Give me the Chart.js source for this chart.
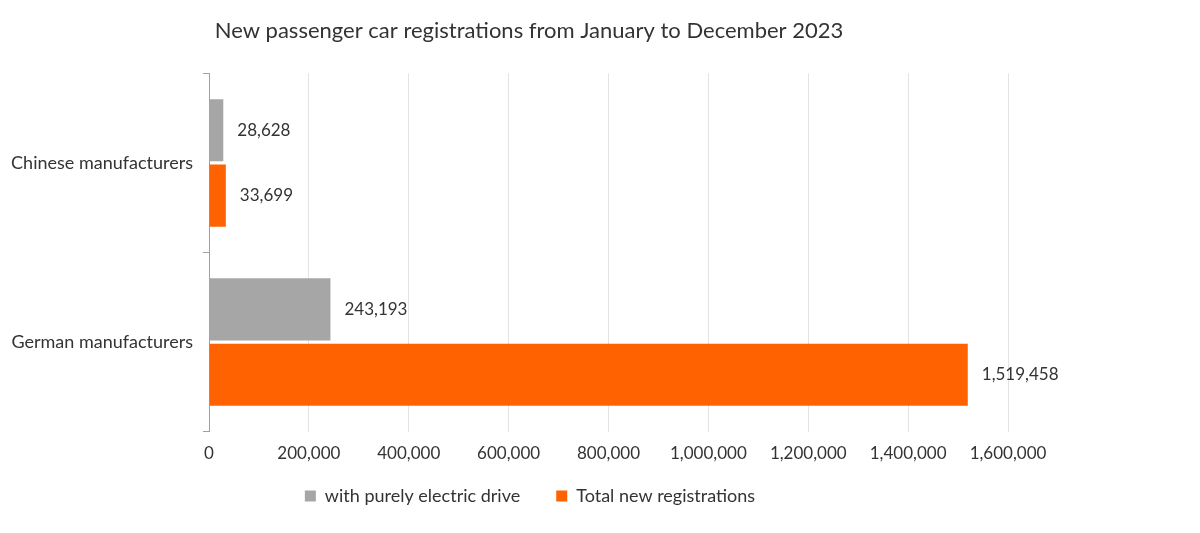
<!DOCTYPE html>
<html>
<head>
<meta charset="utf-8">
<script src="https://cdn.jsdelivr.net/npm/chart.js@4"></script>
<style>
  html, body { margin: 0; padding: 0; background: #fff; }
  #wrap { width: 1200px; height: 533px; }
</style>
</head>
<body>
<div id="wrap"><canvas id="chart" width="1200" height="533"></canvas></div>
<script>
'use strict';

const categories = ["Chinese manufacturers", "German manufacturers"];
const electric = [28628, 243193];
const total = [33699, 1519458];
const series_names = ["with purely electric drive", "Total new registrations"];
const title_text = "New passenger car registrations from January to December 2023";

const FONT = "Lato, 'Noto Sans', sans-serif";
const TEXT = "#333333";

// value labels at the end of each bar
const valueLabels = {
  id: 'valueLabels',
  afterDatasetsDraw(chart) {
    const ctx = chart.ctx;
    ctx.save();
    ctx.font = "17px " + FONT;
    ctx.fillStyle = TEXT;
    ctx.textAlign = 'left';
    ctx.textBaseline = 'middle';
    chart.data.datasets.forEach((ds, i) => {
      chart.getDatasetMeta(i).data.forEach((bar, j) => {
        ctx.fillText(ds.data[j].toLocaleString('en-US'), bar.x + 14, bar.y);
      });
    });
    ctx.restore();
  }
};

// title and legend sit a bit off the canvas centre in the original
const nudgeBoxes = {
  id: 'nudgeBoxes',
  afterLayout(chart) {
    const t = chart.titleBlock;
    if (t) { t.left += 25; t.right += 25; }
    const lg = chart.legend;
    if (lg) {
      lg.left += 26; lg.right += 26;
      lg.top -= 25; lg.bottom -= 25;
    }
  }
};

const ctxP = document.getElementById('chart').getContext('2d');
const chart = new Chart(ctxP, {
  type: 'bar',
  data: {
    labels: categories,
    datasets: [{
      label: series_names[0],
      data: electric,
      backgroundColor: "#a6a6a6",
      categoryPercentage: 0.73,
      barPercentage: 0.95,
    }, {
      label: series_names[1],
      data: total,
      backgroundColor: "#ff6200",
      categoryPercentage: 0.73,
      barPercentage: 0.95,
    }]
  },
  options: {
    indexAxis: 'y',
    responsive: false,
    animation: false,
    layout: {
      padding: { top: 18, right: 192, bottom: -7, left: 0 }
    },
    plugins: {
      title: {
        display: true,
        text: title_text,
        color: TEXT,
        font: { family: FONT, size: 22, weight: 'normal' },
        padding: { top: 0, bottom: 29 }
      },
      legend: {
        position: 'bottom',
        labels: {
          color: TEXT,
          font: { family: FONT, size: 18 },
          boxWidth: 11,
          boxHeight: 11,
          padding: 36
        }
      },
      tooltip: { enabled: false }
    },
    scales: {
      x: {
        min: 0,
        max: 1600000,
        ticks: {
          stepSize: 200000,
          color: TEXT,
          font: { family: FONT, size: 17 },
          padding: 12,
          callback: (v) => v.toLocaleString('en-US')
        },
        grid: { color: "#e3e3e3", drawTicks: false },
        border: { display: false }
      },
      y: {
        ticks: {
          color: TEXT,
          font: { family: FONT, size: 18 },
          padding: 10
        },
        grid: { drawOnChartArea: false, drawTicks: true, tickLength: 6, color: "#a0a0a0" },
        border: { display: true, color: "#a0a0a0" },
        afterFit: (scale) => { scale.width = 209; }
      }
    }
  },
  plugins: [valueLabels, nudgeBoxes]
});
</script>
</body>
</html>
